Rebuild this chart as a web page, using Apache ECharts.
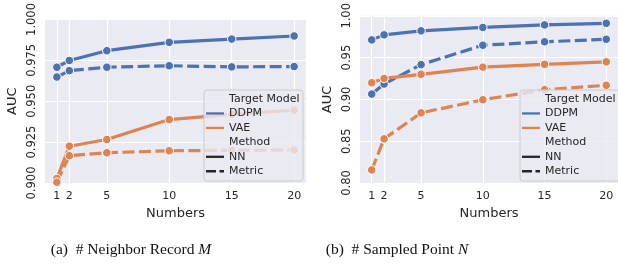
<!DOCTYPE html>
<html>
<head>
<meta charset="utf-8">
<script src="https://cdn.jsdelivr.net/npm/echarts@6/dist/echarts.min.js"></script>
<style>
html, body { margin: 0; padding: 0; background: #fff; }
#chart { width: 618px; height: 267px; }
</style>
</head>
<body>
<div id="chart"></div>
<script>
// x values shared by both panels
var numbers = [1, 2, 5, 10, 15, 20];

// (a) # Neighbor Record M
var neighborDdpmNn     = [0.9708, 0.9749, 0.9809, 0.9860, 0.9880, 0.9899];
var neighborDdpmMetric = [0.9648, 0.9687, 0.9708, 0.9717, 0.9710, 0.9712];
var neighborVaeNn      = [0.9028, 0.9225, 0.9266, 0.9388, 0.9420, 0.9446];
var neighborVaeMetric  = [0.9005, 0.9167, 0.9185, 0.9197, 0.9200, 0.9202];

// (b) # Sampled Point N
var sampledDdpmNn     = [0.9712, 0.9772, 0.9820, 0.9861, 0.9891, 0.9910];
var sampledDdpmMetric = [0.9064, 0.9184, 0.9416, 0.9648, 0.9689, 0.9719];
var sampledVaeNn      = [0.9199, 0.9251, 0.9300, 0.9386, 0.9419, 0.9449];
var sampledVaeMetric  = [0.8157, 0.8528, 0.8839, 0.8996, 0.9116, 0.9169];

var leftYRange = [0.9, 1.0, 0.025];
var rightYRange = [0.8, 1.0, 0.05];

var hueLabels = ['DDPM', 'VAE'];
var styleLabels = ['NN', 'Metric'];
var captions = ['(a)  # Neighbor Record ', '(b)  # Sampled Point '];
var captionVars = ['M', 'N'];

var blue = '#4c72b0';
var orange = '#dd8452';
var ink = '#262626';
var dashed = [12, 4.5];

var chart = echarts.init(document.getElementById('chart'));

function pairs(vals) {
    return numbers.map(function (n, i) { return [n, vals[i]]; });
}

function mkSeries(idx, vals, color, dash) {
    return {
        type: 'line',
        xAxisIndex: idx,
        yAxisIndex: idx,
        data: pairs(vals),
        symbol: 'circle',
        symbolSize: 8.5,
        showSymbol: true,
        clip: false,
        lineStyle: { color: color, width: 3.2, type: dash ? dashed : 'solid', cap: 'butt' },
        itemStyle: { color: color, borderColor: '#fff', borderWidth: 1 },
        emphasis: { disabled: true },
        animation: false
    };
}

function mkX(idx) {
    return {
        type: 'value',
        gridIndex: idx,
        min: 0.05,
        max: 20.95,
        name: 'Numbers',
        nameLocation: 'middle',
        nameGap: 23,
        nameTextStyle: { fontFamily: 'DejaVu Sans', fontSize: 13, color: ink },
        axisLine: { show: false },
        axisTick: { show: false, customValues: numbers },
        axisLabel: { customValues: numbers, fontFamily: 'DejaVu Sans', fontSize: 11, color: ink, margin: 8 },
        splitLine: { show: true, lineStyle: { color: '#fff', width: 1.2 } }
    };
}

function mkY(idx, range, digits) {
    return {
        type: 'value',
        gridIndex: idx,
        min: range[0],
        max: range[1],
        interval: range[2],
        name: 'AUC',
        nameLocation: 'middle',
        nameRotate: 90,
        nameGap: 26,
        nameTextStyle: { fontFamily: 'DejaVu Sans', fontSize: 13, color: ink },
        axisLine: { show: false },
        axisTick: { show: false },
        axisLabel: {
            rotate: 90,
            margin: 7,
            fontFamily: 'DejaVu Sans',
            fontSize: 11.5,
            color: ink,
            formatter: function (v) { return v.toFixed(digits); }
        },
        splitLine: { show: true, lineStyle: { color: '#fff', width: 1.2 } }
    };
}

// legend box drawn as graphic, one per panel
function legendBox(bx, by, bw) {
    var els = [];
    var step = 14.45;
    var rows = [
        { text: 'Target Model' },
        { text: hueLabels[0], color: blue },
        { text: hueLabels[1], color: orange },
        { text: 'Method' },
        { text: styleLabels[0], color: ink },
        { text: styleLabels[1], color: ink, dash: true }
    ];
    els.push({
        type: 'rect', z: 100,
        shape: { x: bx, y: by, width: bw, height: 91, r: 3 },
        style: { fill: 'rgba(234,234,242,0.8)', stroke: '#cccccc', lineWidth: 1 }
    });
    rows.forEach(function (r, i) {
        var cy = by + 9 + i * step;
        if (r.color) {
            els.push({
                type: 'line', z: 101,
                shape: { x1: bx + 2, y1: cy, x2: bx + 20, y2: cy },
                style: { stroke: r.color, lineWidth: 2.3, lineDash: r.dash ? [10, 3.5] : null }
            });
        }
        els.push({
            type: 'text', z: 101,
            x: bx + 25, y: cy,
            style: { text: r.text, fontFamily: 'DejaVu Sans', fontSize: 11, fill: ink, verticalAlign: 'middle' }
        });
    });
    return els;
}

function caption(cx, i) {
    return {
        type: 'text', z: 101,
        x: cx, y: 250,
        style: {
            text: '{n|' + captions[i] + '}{v|' + captionVars[i] + '}',
            align: 'center', verticalAlign: 'middle',
            rich: {
                n: { fontFamily: 'Liberation Serif', fontSize: 15.5, fill: '#111' },
                v: { fontFamily: 'Liberation Serif', fontSize: 15.5, fontStyle: 'italic', fill: '#111' }
            }
        }
    };
}

var option = {
    backgroundColor: '#fff',
    animation: false,
    grid: [
        { left: 45, top: 5, width: 261, height: 178, show: true, backgroundColor: '#eaeaf2', borderWidth: 0 },
        { left: 360, top: 5, width: 262, height: 178, show: true, backgroundColor: '#eaeaf2', borderWidth: 0 }
    ],
    xAxis: [mkX(0), mkX(1)],
    yAxis: [mkY(0, leftYRange, 3), mkY(1, rightYRange, 2)],
    series: [
        mkSeries(0, neighborDdpmNn, blue, false),
        mkSeries(0, neighborDdpmMetric, blue, true),
        mkSeries(0, neighborVaeNn, orange, false),
        mkSeries(0, neighborVaeMetric, orange, true),
        mkSeries(1, sampledDdpmNn, blue, false),
        mkSeries(1, sampledDdpmMetric, blue, true),
        mkSeries(1, sampledVaeNn, orange, false),
        mkSeries(1, sampledVaeMetric, orange, true)
    ],
    graphic: legendBox(204, 90, 99)
        .concat(legendBox(520, 90, 100))
        .concat([caption(131, 0), caption(397, 1)])
};

chart.setOption(option);
</script>
</body>
</html>
